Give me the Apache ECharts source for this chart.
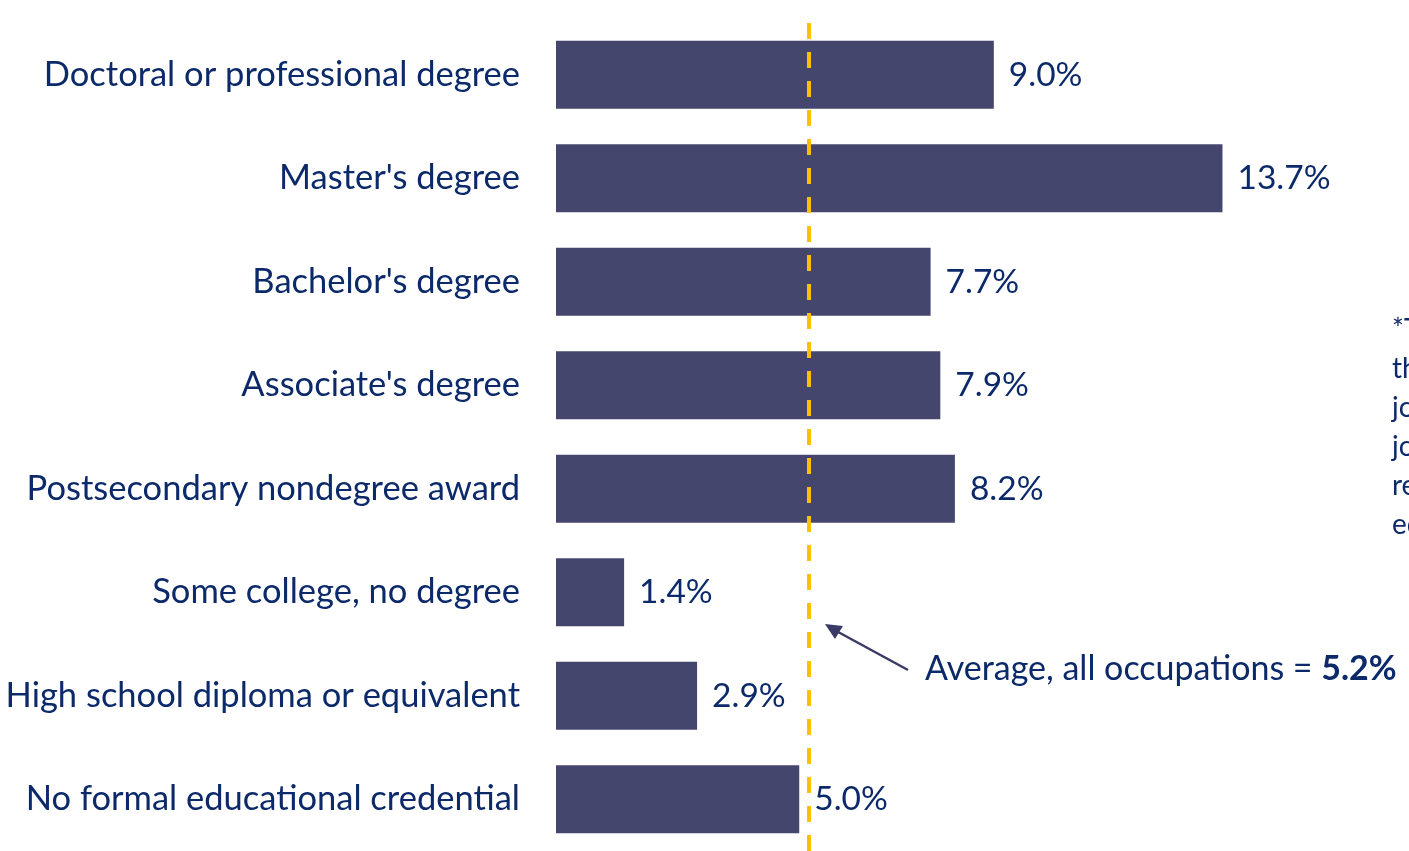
<!DOCTYPE html>
<html>
<head>
<meta charset="utf-8">
<script src="https://cdn.jsdelivr.net/npm/echarts@6/dist/echarts.min.js"></script>
<style>
  html, body { margin: 0; padding: 0; background: #fff; }
  #main { width: 1409px; height: 851px; }
</style>
</head>
<body>
<div id="main"></div>
<script>
// 数据
var categories = [
  'Doctoral or professional degree',
  "Master's degree",
  "Bachelor's degree",
  "Associate's degree",
  'Postsecondary nondegree award',
  'Some college, no degree',
  'High school diploma or equivalent',
  'No formal educational credential'
];
var values = [9.0, 13.7, 7.7, 7.9, 8.2, 1.4, 2.9, 5.0];
var avgValue = 5.2;
var noteLines = ['*The', 'the', 'jobs', 'jobs', 're', 'ed'];

var textColor = '#0c2a6a';
var font = 'Lato';

var chart = echarts.init(document.getElementById('main'));
var option = {
  animation: false,
  grid: { left: 556, right: 26, top: 23, bottom: 0 },
  xAxis: {
    type: 'value', min: 0, max: 17,
    show: false
  },
  yAxis: {
    type: 'category',
    data: categories,
    inverse: true,
    axisLine: { show: false },
    axisTick: { show: false },
    axisLabel: { color: textColor, fontFamily: font, fontSize: 34.5, margin: 36 }
  },
  series: [{
    type: 'bar',
    data: values,
    barWidth: 68,
    itemStyle: { color: '#45466d' },
    label: {
      show: true, position: 'right', distance: 15,
      color: textColor, fontFamily: font, fontSize: 33.5,
      formatter: function (p) { return p.value.toFixed(1) + '%'; }
    },
    markLine: {
      silent: true, symbol: 'none',
      label: { show: false },
      lineStyle: { color: '#ffc000', type: [16, 13], width: 4 },
      data: [{ xAxis: avgValue }]
    }
  }]
};
chart.setOption(option);

// 注释箭头和文字
var tip = chart.convertToPixel({ gridIndex: 0 }, [avgValue, 5]);
var tipX = tip[0] + 16, tipY = 624;
var graphics = [
  {
    type: 'line',
    shape: { x1: 908, y1: 670, x2: tipX + 4, y2: tipY + 3 },
    style: { stroke: '#3a3a66', lineWidth: 2.5 }
  },
  {
    type: 'polygon',
    shape: { points: [[tipX, tipY], [tipX + 18, tipY + 2], [tipX + 10, tipY + 15]] },
    style: { fill: '#3a3a66' }
  },
  {
    type: 'text', left: 925, top: 652,
    style: {
      text: '{a|Average, all occupations = }{b|' + avgValue.toFixed(1) + '%}',
      rich: {
        a: { fontFamily: font, fontSize: 34, fill: textColor },
        b: { fontFamily: font, fontSize: 34, fontWeight: 'bold', fill: textColor }
      }
    }
  }
];
noteLines.forEach(function (t, i) {
  graphics.push({
    type: 'text', left: 1392, top: 316 + i * 39,
    style: { text: t, fontFamily: font, fontSize: 28, fill: textColor }
  });
});
chart.setOption({ graphic: graphics });
</script>
</body>
</html>
